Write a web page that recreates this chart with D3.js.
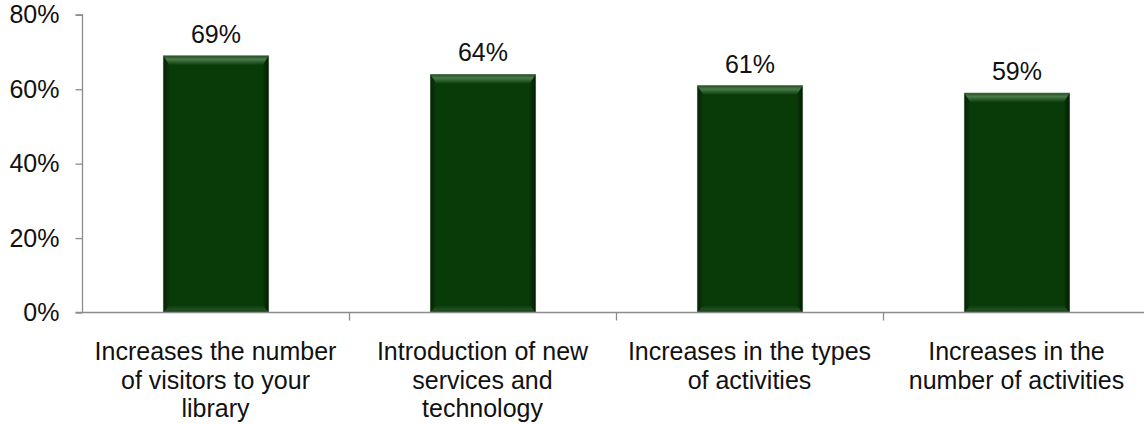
<!DOCTYPE html>
<html>
<head>
<meta charset="utf-8">
<script src="https://cdn.jsdelivr.net/npm/d3@7"></script>
<style>
  html, body { margin: 0; padding: 0; background: #fff; }
  svg { display: block; font-family: "Liberation Sans", Arial, sans-serif; }
</style>
</head>
<body>
<svg id="chart" width="1144" height="425"></svg>
<script>
// Survey results: share of respondents per benefit
const categories = [
  "Increases the number of visitors to your library",
  "Introduction of new services and technology",
  "Increases in the types of activities",
  "Increases in the number of activities"
];
const categoryLines = [
  ["Increases the number", "of visitors to your", "library"],
  ["Introduction of new", "services and", "technology"],
  ["Increases in the types", "of activities"],
  ["Increases in the", "number of activities"]
];
const values = [69, 64, 61, 59];
const yTicks = [0, 20, 40, 60, 80];

(function () {
  const svg = d3.select("#chart");
  const W = 1144;
  const mLeft = 82.5, mRight = 1150.5, mTop = 14.8, mBottom = 312.5;
  const fs = 25;

  const x = d3.scaleBand().domain(categories).range([mLeft, mRight]).padding(0);
  const y = d3.scaleLinear().domain([0, 80]).range([mBottom, mTop]);
  const barW = x.bandwidth() * 0.395;

  const defs = svg.append("defs");
  const grad = (id, x2, y2, stops) => {
    const g = defs.append("linearGradient").attr("id", id)
      .attr("x1", 0).attr("y1", 0).attr("x2", x2).attr("y2", y2);
    stops.forEach(([o, c]) => g.append("stop").attr("offset", o).attr("stop-color", c));
  };
  grad("bevTop", 0, 1, [["0%", "#1f4d1f"], ["40%", "#4a7a4a"], ["100%", "#0e420e"]]);
  grad("bevBot", 0, 1, [["0%", "#0a3b0a"], ["55%", "#1f4f1f"], ["100%", "#163f16"]]);
  grad("bevLeft", 1, 0, [["0%", "#052405"], ["100%", "#0a380a"]]);
  grad("bevRight", 1, 0, [["0%", "#0a380a"], ["100%", "#031c03"]]);

  // Bars with a bevelled edge
  const bars = svg.append("g").selectAll("g.bar")
    .data(values.map((v, i) => ({ v, c: categories[i] })))
    .join("g").attr("class", "bar");

  bars.each(function (d) {
    const g = d3.select(this);
    const x0 = x(d.c) + (x.bandwidth() - barW) / 2;
    const x1 = x0 + barW;
    const y0 = y(d.v), y1 = y(0);
    const bt = 9, bb = 7, bs = 6;
    g.append("rect").attr("x", x0).attr("y", y0).attr("width", barW).attr("height", y1 - y0)
      .attr("fill", "#093b09");
    g.append("polygon").attr("fill", "url(#bevLeft)")
      .attr("points", [[x0, y0], [x0 + bs, y0 + bt], [x0 + bs, y1 - bb], [x0, y1]].join(" "));
    g.append("polygon").attr("fill", "url(#bevRight)")
      .attr("points", [[x1, y0], [x1 - bs, y0 + bt], [x1 - bs, y1 - bb], [x1, y1]].join(" "));
    g.append("polygon").attr("fill", "url(#bevTop)")
      .attr("points", [[x0, y0], [x1, y0], [x1 - bs, y0 + bt], [x0 + bs, y0 + bt]].join(" "));
    g.append("polygon").attr("fill", "url(#bevBot)")
      .attr("points", [[x0 + bs, y1 - bb], [x1 - bs, y1 - bb], [x1, y1], [x0, y1]].join(" "));
    g.append("rect").attr("x", x0).attr("y", y0).attr("width", barW).attr("height", y1 - y0)
      .attr("fill", "none").attr("stroke", "#7a8a7a").attr("stroke-width", 0.7).attr("stroke-opacity", 0.7);
    g.append("text")
      .attr("x", x0 + barW / 2).attr("y", y0 - 13)
      .attr("text-anchor", "middle").attr("font-size", fs).attr("fill", "#111")
      .text(d.v + "%");
  });

  // Y axis
  const yAxis = d3.axisLeft(y).tickValues(yTicks).tickFormat(d => d + "%").tickSize(7).tickPadding(16);
  const gy = svg.append("g").attr("transform", `translate(${mLeft},0)`).call(yAxis);
  gy.select(".domain").attr("stroke", "#8c8c8c").attr("stroke-width", 1.3)
    .attr("d", `M-7,${mTop}H0V${mBottom}`);
  gy.selectAll(".tick line").attr("stroke", "#8c8c8c").attr("stroke-width", 1.3);
  gy.selectAll(".tick text").attr("font-size", fs).attr("fill", "#111")
    .attr("font-family", "Liberation Sans, Arial, sans-serif");

  // X axis
  const xTickPos = categories.map(c => x(c) + x.bandwidth());
  const gx = svg.append("g");
  gx.append("line").attr("x1", mLeft - 7).attr("x2", W).attr("y1", mBottom).attr("y2", mBottom)
    .attr("stroke", "#8c8c8c").attr("stroke-width", 1.5);
  gx.selectAll("line.tk").data(xTickPos).join("line").attr("class", "tk")
    .attr("x1", d => d).attr("x2", d => d).attr("y1", mBottom).attr("y2", mBottom + 8)
    .attr("stroke", "#8c8c8c").attr("stroke-width", 1.3);

  // Category labels
  const lab = svg.append("g").selectAll("text").data(categories).join("text")
    .attr("text-anchor", "middle").attr("font-size", fs).attr("fill", "#111")
    .attr("y", 360);
  lab.each(function (c, i) {
    const t = d3.select(this);
    const cx = x(c) + x.bandwidth() / 2 - 0.5;
    categoryLines[i].forEach((line, k) => {
      t.append("tspan").attr("x", cx).attr("dy", k === 0 ? 0 : 28.5).text(line);
    });
  });
})();
</script>
</body>
</html>
